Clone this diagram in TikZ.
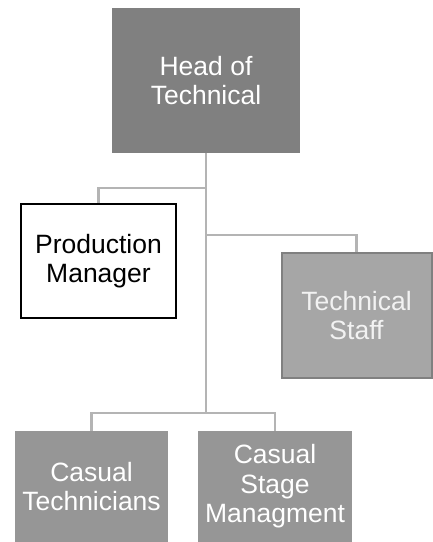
\documentclass[tikz,border=0pt]{standalone}
\usepackage{fontspec}
\setmainfont{Liberation Sans}
\definecolor{headfill}{HTML}{808080}
\definecolor{tsfill}{HTML}{A6A6A6}
\definecolor{tsborder}{HTML}{808080}
\definecolor{casfill}{HTML}{969696}
\definecolor{linkcol}{HTML}{B4B4B4}
\begin{document}
\begin{tikzpicture}[x=1pt,y=-1pt,
  box/.style={rectangle, inner sep=0pt, align=center, font=\fontsize{26.5}{29.5}\selectfont},
  link/.style={draw=linkcol, line width=2.6pt}]
\useasboundingbox (0,0) rectangle (433,542);
\node[box, fill=headfill, text=white, minimum width=188pt, minimum height=145pt] (head) at (206,80.5) {Head of\\Technical};
\node[box, fill=white, draw=black, line width=2pt, text=black, minimum width=155pt, minimum height=114pt] (pm) at (98.5,261) {Production\\Manager};
\node[box, fill=tsfill, draw=tsborder, line width=2pt, text=white!95!black, minimum width=150pt, minimum height=125pt] (ts) at (356.5,315.5) {Technical\\Staff};
\node[box, fill=casfill, text=white, minimum width=153pt, minimum height=111pt] (ct) at (91.5,486.5) {Casual\\Technicians};
\node[box, fill=casfill, text=white, minimum width=154pt, minimum height=111pt] (csm) at (275,486.5) {Casual\\Stage\\Managment};
\coordinate (j1) at (206,188);
\coordinate (j2) at (206,235);
\coordinate (j3) at (206,413);
\draw[link] (head.south) -- (j3);
\draw[link] (j1) -| (pm.north);
\draw[link] (j2) -| (ts.north);
\draw[link] (j3) -| (ct.north);
\draw[link] (j3) -| (csm.north);
\end{tikzpicture}
\end{document}
